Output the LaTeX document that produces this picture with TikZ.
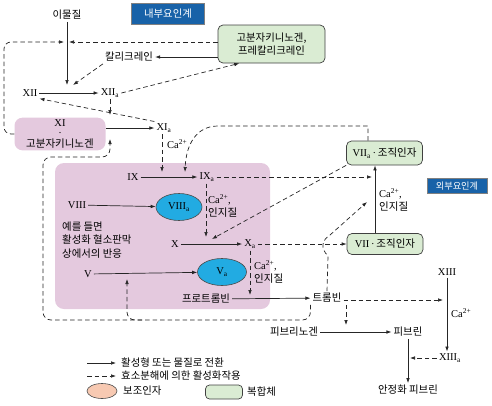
\documentclass[tikz,border=0pt]{standalone}
\usepackage{fontspec}
\setmainfont{Liberation Serif}
\newfontfamily\kr{Noto Sans CJK KR}
\usetikzlibrary{arrows.meta,shapes.geometric}
\definecolor{platepink}{RGB}{228,201,222}
\definecolor{cplxgreen}{RGB}{218,236,211}
\definecolor{cofblue}{RGB}{34,171,226}
\definecolor{sysblue}{RGB}{24,98,168}
\definecolor{coforange}{RGB}{247,201,178}
\newcommand{\actv}{\textsubscript{a}}
\newcommand{\catwo}{Ca\textsuperscript{2+}}

\begin{document}
\begin{tikzpicture}[x=1pt, y=-1pt, inner sep=2pt,
        font=\fontsize{10.5}{12.5}\selectfont,
        ko/.style={font=\kr\fontsize{10.4}{13.5}\selectfont},
        conv/.style={-{Latex[length=5pt,width=3.6pt]}, line width=0.7pt, draw=black!85},
        act/.style={conv, dash pattern=on 4.5pt off 3pt},
        cplx/.style={draw=black!75, line width=0.7pt, fill=cplxgreen, rounded corners=5pt},
        cof/.style={ellipse, draw=black!70, line width=0.6pt, fill=cofblue, inner sep=0pt},
        sysbox/.style={draw=black!50, fill=sysblue, text=white},
        plate/.style={fill=platepink, rounded corners=9pt}]
        \useasboundingbox (0, 0) rectangle (492, 405);

        % background of the platelet reactions
        \node[plate, minimum width=215, minimum height=146] at (162.5, 236) (plate) {};

        \node[ko] at (67, 15) (frgn) {이물질};
        \node[sysbox, ko, minimum width=73, minimum height=21] at (168, 14) (intr) {내부요인계};
        \node[cplx, ko, align=center, minimum width=107, minimum height=38] at (271.5, 44) (hmwk) {고분자키니노겐,\\프레칼리크레인};
        \node[ko] at (129, 57) (kal) {칼리크레인};
        \node at (30, 93) (f12) {XII};
        \node at (110, 93) (f12a) {XII\actv};
        \node[plate, align=center, minimum width=91, minimum height=31, rounded corners=8pt] at (60, 134) (f11) {XI\\[-2.5pt]·\\[-1.5pt]{\kr 고분자키니노겐}};
        \node at (164, 128) (f11a) {XI\actv};
        \node at (133, 177) (f9) {IX};
        \node at (207, 177) (f9a) {IX\actv};
        \node at (77, 205) (f8) {VIII};
        \node[cof, minimum width=46, minimum height=27] at (179, 207) (f8a) {VIII\actv};
        \node[ko, align=left, anchor=west] at (60, 240) (note) {예를 들면\\활성화 혈소판막\\상에서의 반응};
        \node at (175, 244) (f10) {X};
        \node at (250, 244) (f10a) {X\actv};
        \node at (88, 274) (f5) {V};
        \node[cof, minimum width=49, minimum height=27] at (222, 272) (f5a) {V\actv};
        \node[ko] at (206, 299) (proth) {프로트롬빈};
        \node[ko] at (327, 298) (thr) {트롬빈};
        \node[cplx, minimum width=76, minimum height=24] at (384.5, 153) (f7a) {VII\actv\,·\,{\kr 조직인자}};
        \node[sysbox, font=\kr\fontsize{9.2}{11}\selectfont, minimum width=60, minimum height=15, inner sep=1pt] at (457, 186) (extr) {외부요인계};
        \node[cplx, minimum width=76, minimum height=21] at (385, 244) (f7) {VII\,·\,{\kr 조직인자}};
        \node at (447, 272) (f13) {XIII};
        \node at (450, 358) (f13a) {XIII\actv};
        \node[ko] at (294, 332) (fbg) {피브리노겐};
        \node[ko] at (408, 332) (fbn) {피브린};
        \node[ko] at (408, 390) (sfbn) {안정화 피브린};

        % cofactor labels
        \node[anchor=west] at (165, 144) (ca1) {\catwo};
        \node[anchor=west, align=left] at (206, 206) (ca2) {\catwo,\\{\kr 인지질}};
        \node[anchor=west, align=left] at (252, 272) (ca3) {\catwo,\\{\kr 인지질}};
        \node[anchor=west, align=left] at (377, 200) (ca4) {\catwo,\\{\kr 인지질}};
        \node[anchor=west] at (449, 313) (ca5) {\catwo};

        % points where arrows meet a conversion
        \coordinate (jfx) at (67, 85);
        \coordinate (jk) at (67, 42);
        \coordinate (j11t) at (110, 115);
        \coordinate (j11b) at (110, 139);
        \coordinate (j9a) at (162, 172);
        \coordinate (j9b) at (185, 172);
        \coordinate (t7) at (368, 126);
        \coordinate (j10a) at (206, 237);
        \coordinate (j10b) at (212, 239);
        \coordinate (j5) at (127, 279);
        \coordinate (lpv) at (142, 320);
        \coordinate (jpt) at (250, 295);
        \coordinate (v7) at (375, 200);
        \coordinate (j7) at (367, 202);
        \coordinate (j7i) at (372, 177);
        \coordinate (j13) at (443, 300);
        \coordinate (jfb) at (346, 325);
        \coordinate (jsf) at (410, 358);

        % intrinsic pathway
        \draw[conv] (frgn) -- (jfx);
        \draw[act] (hmwk.west |- jk) -- ([xshift=2pt]jk);
        \draw[act, rounded corners=7] (f11.west) -| (4, 42) -- ([xshift=-3pt]jk);
        \draw[conv] (hmwk.west |- kal) -- (kal);
        \draw[act] (kal.south west) -- ([xshift=6pt]jfx);
        \draw[conv] (f12) -- (f12a);
        \draw[act] (f12a.east) -- (hmwk.211);
        \draw[act] (f11a.north west) -- (f12.south east);
        \draw[conv] (f11.east |- f11a) -- (f11a);
        \draw[act] (f12a.south -| j11t) -- (j11t);
        \draw[act] (f11a.south -| j9a) -- (j9a);
        \draw[act] (f7a.north -| t7) -- (t7) -- (218, 126) .. controls (196, 126) and (186, 145) .. (j9b);
        \draw[conv] (f9) -- (f9a);
        \draw[conv] (f8) -- (f8a);
        \draw[act] (f9a) -- (j7i);
        \draw[act] (f9a.south -| j10a) -- (j10a);
        \draw[act] (f7a.south west) -- (j10b);
        \draw[conv] (f10) -- (f10a);
        \draw[act] (f10a) -- (f7);
        \draw[conv] (f5) -- (f5a);
        \draw[act] (f10a.south -| jpt) -- (jpt);
        \draw[conv] (proth) -- (thr);

        % extrinsic pathway
        \draw[conv] (f7.north -| v7) -- (f7a.south -| v7);

        % thrombin feedback
        \draw[act, rounded corners=8] (thr.south west) |- (43, 320) |- (110, 157) -- (j11b);
        \draw[act, rounded corners=8] (lpv) -| (j5);
        \draw[act] (thr.north) -- (328, 256) .. controls (320, 248) and (322, 240) .. (330, 235) -- (j7);
        \draw[act] (thr.east |- j13) -- (j13);
        \draw[act] (thr.south -| jfb) -- (jfb);

        % fibrin
        \draw[conv] (fbg) -- (fbn);
        \draw[conv] (f13) -- (f13.south |- f13a.north);
        \draw[conv] (fbn) -- (sfbn);
        \draw[act] (f13a) -- (jsf);

        % legend
        \coordinate (lg1) at (87, 363);
        \coordinate (lg1e) at (116, 363);
        \coordinate (lg2) at (87, 376);
        \coordinate (lg2e) at (116, 376);
        \draw[conv] (lg1) -- (lg1e);
        \draw[act] (lg2) -- (lg2e);
        \node[ko, anchor=west] at (119, 363) (lgt1) {활성형 또는 물질로 전환};
        \node[ko, anchor=west] at (119, 376) (lgt2) {효소분해에 의한 활성화작용};
        \node[cof, fill=coforange, minimum width=30, minimum height=15] at (102, 391) (lgc) {};
        \node[ko, anchor=west] at (121, 391) (lgt3) {보조인자};
        \node[cplx, minimum width=37, minimum height=14, rounded corners=4pt] at (224, 392) (lgx) {};
        \node[ko, anchor=west] at (245, 392) (lgt4) {복합체};
    \end{tikzpicture}
\end{document}
